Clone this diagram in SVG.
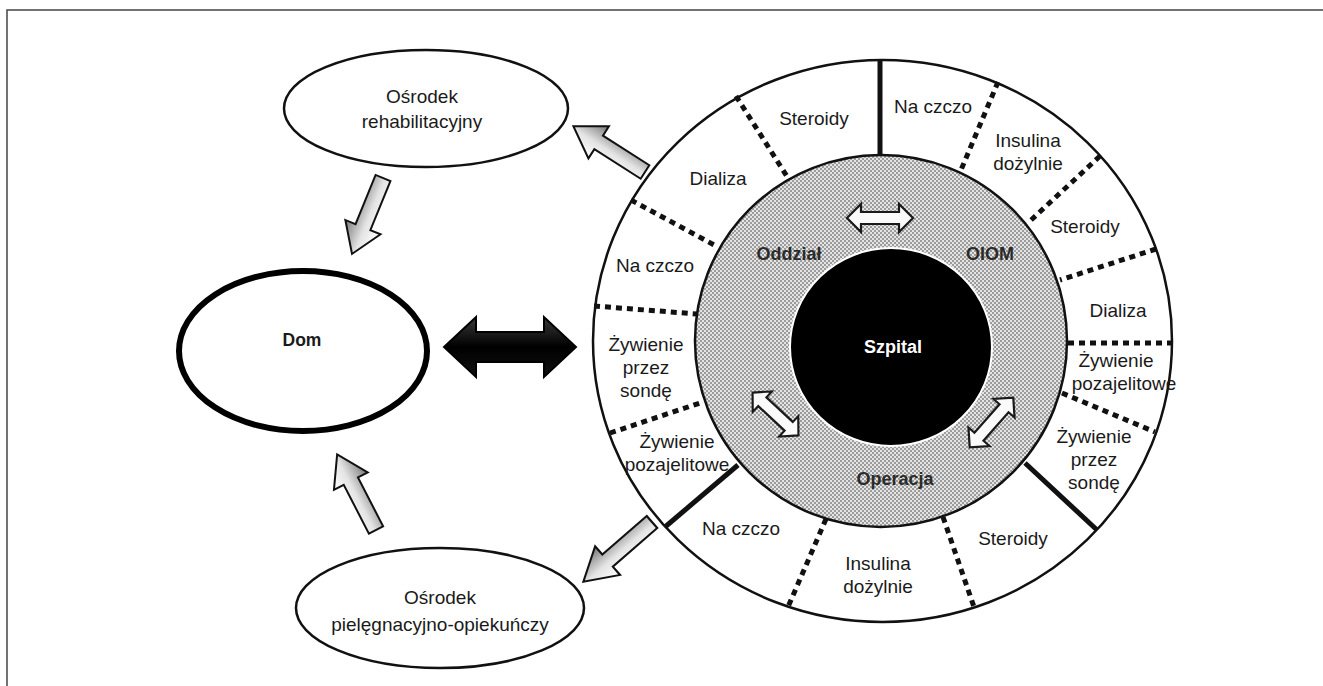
<svg xmlns="http://www.w3.org/2000/svg" width="1323" height="686" viewBox="0 0 1323 686">
<defs>
<pattern id="hatch" width="4" height="4" patternUnits="userSpaceOnUse">
<rect width="4" height="4" fill="#e4e4e4"/>
<rect width="2" height="2" fill="#9c9c9c"/>
<rect x="2" y="2" width="2" height="2" fill="#9c9c9c"/>
</pattern>
<linearGradient id="arrGrad" x1="0" y1="0" x2="0" y2="1">
<stop offset="0" stop-color="#ffffff"/>
<stop offset="0.45" stop-color="#e4e4e4"/>
<stop offset="1" stop-color="#777777"/>
</linearGradient>
<linearGradient id="blackGrad" x1="0" y1="0" x2="0" y2="1">
<stop offset="0" stop-color="#3a3a3a"/>
<stop offset="0.5" stop-color="#000000"/>
<stop offset="1" stop-color="#111111"/>
</linearGradient>
<path id="blk" d="M0,-8 L55,-8 L55,-19 L85,0 L55,19 L55,8 L0,8 Z"/>
<path id="dbl" d="M-33,0 L-19,-14 L-19,-6 L19,-6 L19,-14 L33,0 L19,14 L19,6 L-19,6 L-19,14 Z"/>
</defs>
<style>
.lbl{font-family:"Liberation Sans",Arial,sans-serif;font-size:19px;fill:#1a1a1a;text-anchor:middle}
.bld{font-family:"Liberation Sans",Arial,sans-serif;font-size:18px;font-weight:bold;fill:#2b2b2b;text-anchor:middle}
.dash{stroke:#111;stroke-width:5;stroke-dasharray:6 5;fill:none}
.solid{stroke:#111;stroke-width:5;fill:none}
.garrow{fill:url(#arrGrad);stroke:#111;stroke-width:2;stroke-linejoin:miter}
.warrow{fill:#fafafa;stroke:#1a1a1a;stroke-width:2.2}
.node{fill:#fff;stroke:#111;stroke-width:2.5}
</style>

<!-- frame -->
<path d="M7,686 L7,10 L1323,10" fill="none" stroke="#444" stroke-width="1.5"/>

<!-- Hospital -->
<g id="szpital-ring">
<ellipse cx="882.5" cy="341" rx="289.5" ry="281" fill="#fff" stroke="#111" stroke-width="2.5"/>
</g>
<g id="ring-dividers">
<line class="solid" x1="880" y1="60" x2="880" y2="155"/>
<line class="dash" x1="736" y1="96" x2="788" y2="178"/>
<line class="dash" x1="631" y1="200" x2="718" y2="247"/>
<line class="dash" x1="594" y1="306" x2="697" y2="314"/>
<line class="dash" x1="610" y1="433" x2="703" y2="402"/>
<line class="solid" x1="738" y1="465" x2="665" y2="527"/>
<line class="dash" x1="998" y1="82" x2="961" y2="170"/>
<line class="dash" x1="1100" y1="156" x2="1029" y2="222"/>
<line class="dash" x1="1156" y1="249" x2="1060" y2="280"/>
<line class="dash" x1="1068" y1="343" x2="1172" y2="343"/>
<line class="dash" x1="1062" y1="393" x2="1155" y2="432"/>
<line class="solid" x1="1025" y1="463" x2="1097" y2="530"/>
<line class="dash" x1="943" y1="517" x2="974" y2="607"/>
<line class="dash" x1="826" y1="519" x2="788" y2="607"/>
</g>
<g id="szpital-gray">
<circle cx="881" cy="341" r="186" fill="url(#hatch)" stroke="#111" stroke-width="2.5"/>
</g>
<g id="szpital-core">
<ellipse cx="891" cy="347" rx="101" ry="99" fill="#000" stroke="#fff" stroke-width="2"/>
<text x="893" y="353" class="bld" style="fill:#fff">Szpital</text>
</g>
<g id="ring-labels">
<text class="lbl" x="814" y="125">Steroidy</text>
<text class="lbl" x="718" y="185">Dializa</text>
<text class="lbl" x="655" y="272">Na czczo</text>
<text class="lbl" x="646" y="351">Żywienie</text>
<text class="lbl" x="646" y="374">przez</text>
<text class="lbl" x="646" y="397">sondę</text>
<text class="lbl" x="677" y="448">Żywienie</text>
<text class="lbl" x="677" y="471">pozajelitowe</text>
<text class="lbl" x="933" y="113">Na czczo</text>
<text class="lbl" x="1028" y="147">Insulina</text>
<text class="lbl" x="1028" y="170">dożylnie</text>
<text class="lbl" x="1085" y="233">Steroidy</text>
<text class="lbl" x="1118" y="317">Dializa</text>
<text class="lbl" x="1116" y="367">Żywienie</text>
<text class="lbl" x="1124" y="390">pozajelitowe</text>
<text class="lbl" x="1094" y="443">Żywienie</text>
<text class="lbl" x="1094" y="466">przez</text>
<text class="lbl" x="1094" y="489">sondę</text>
<text class="lbl" x="1013" y="545">Steroidy</text>
<text class="lbl" x="878" y="570">Insulina</text>
<text class="lbl" x="878" y="593">dożylnie</text>
<text class="lbl" x="741" y="535">Na czczo</text>
</g>
<g id="oddzial"><text class="bld" x="789" y="260">Oddział</text></g>
<g id="oiom"><text class="bld" x="990" y="260">OIOM</text></g>
<g id="operacja"><text class="bld" x="895" y="485">Operacja</text></g>

<!-- Left nodes -->
<g id="rehab">
<ellipse class="node" cx="426" cy="108.5" rx="142" ry="58.5"/>
<text class="lbl" x="422" y="103">Ośrodek</text>
<text class="lbl" x="422" y="128">rehabilitacyjny</text>
</g>
<g id="dom">
<ellipse cx="303" cy="351" rx="124" ry="80" fill="#fff" stroke="#000" stroke-width="6"/>
<text class="bld" x="302" y="346" style="font-size:17.5px;fill:#1a1a1a">Dom</text>
</g>
<g id="opieka">
<ellipse class="node" cx="440" cy="608" rx="144" ry="60"/>
<text class="lbl" x="440" y="604">Ośrodek</text>
<text class="lbl" x="440" y="631">pielęgnacyjno-opiekuńczy</text>
</g>

<!-- Connectors -->
<g id="connectors">
<use href="#blk" class="garrow" transform="translate(645,172) rotate(212.6)"/>
<use href="#blk" class="garrow" transform="translate(383,178) rotate(112.2) scale(0.965,1)"/>
<use href="#blk" class="garrow" transform="translate(376,530) rotate(242.8)"/>
<use href="#blk" class="garrow" transform="translate(652,522) rotate(139) scale(1.07,1)"/>
<path d="M444,347 L476,317 L476,332 L544,332 L544,317 L576,347 L544,377 L544,362 L476,362 L476,377 Z" fill="url(#blackGrad)" stroke="#000" stroke-width="2"/>
<use href="#dbl" class="warrow" transform="translate(880,218)"/>
<use href="#dbl" class="warrow" transform="translate(775.5,414) rotate(43) scale(0.95,1)"/>
<use href="#dbl" class="warrow" transform="translate(991.5,422.5) rotate(-48.7)"/>
</g>
</svg>
